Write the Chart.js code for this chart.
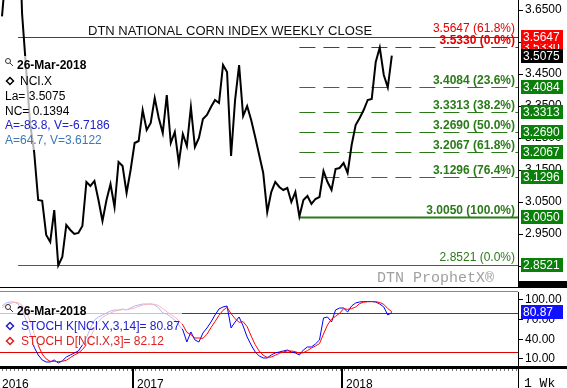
<!DOCTYPE html>
<html>
<head>
<meta charset="utf-8">
<script src="https://cdn.jsdelivr.net/npm/chart.js@4.4.1/dist/chart.umd.min.js"></script>
<style>
  html, body { margin: 0; padding: 0; background: #fff; }
  #wrap { position: relative; width: 567px; height: 388px; overflow: hidden; }
  canvas { position: absolute; left: 0; }
  #main { top: 0; }
  #stoch { top: 288px; }
</style>
</head>
<body>
<div id="wrap">
  <canvas id="main" width="567" height="288"></canvas>
  <canvas id="stoch" width="567" height="100"></canvas>
</div>
<script>
// weekly closes, week 0 = 16-May-2016 ... week 97 = 26-Mar-2018
const closes = [3.63, 3.78, 3.84, 3.93, 4.005, 3.6375, 3.4658, 3.2940, 3.2066, 3.0567,
  3.0540, 2.9474, 2.9255, 3.0254, 2.8521, 2.8786, 2.9786, 2.9630, 2.9505, 2.9536,
  2.9755, 3.1129, 3.1004, 3.1160, 3.0567, 2.9911, 3.0567, 3.1066, 3.0348, 3.1753,
  3.1628, 3.0785, 3.1503, 3.2347, 3.2409, 3.3377, 3.2753, 3.2971, 3.3752, 3.3128,
  3.2659, 3.3846, 3.2347, 3.2690, 3.1722, 3.2628, 3.2253, 3.3471, 3.2222, 3.2503,
  3.3096, 3.3221, 3.3471, 3.3690, 3.3596, 3.4783, 3.4564, 3.1941, 3.3690, 3.4783,
  3.3190, 3.3502, 3.3065, 3.2534, 3.1972, 3.1410, 3.0192, 3.0816, 3.1129, 3.0973,
  3.0879, 3.0941, 3.0504, 3.0816, 3.0050, 3.0567, 3.0692, 3.0442, 3.0598, 3.0660,
  3.1472, 3.1129, 3.0879, 3.1535, 3.1566, 3.1722, 3.1410, 3.2284, 3.2909, 3.3128,
  3.3377, 3.3690, 3.3721, 3.4877, 3.5330, 3.4471, 3.4084, 3.5075];

const stochK = [90.8, 95.4, 96.9, 96.9, 93.8, 84.7, 69.5, 49.6, 28.0, 16.1,
  8.5, 5.4, 5.4, 8.5, 3.9, 7.0, 13.0, 16.1, 19.1, 22.2,
  31.3, 42.0, 57.0, 69.5, 74.0, 77.1, 80.1, 83.2, 84.7, 84.7,
  86.2, 84.7, 87.7, 90.8, 92.3, 93.8, 93.8, 93.8, 92.3, 87.7,
  80.1, 78.6, 74.0, 69.5, 61.8, 54.2, 35.9, 51.2, 39.0, 35.9,
  49.6, 57.3, 66.4, 77.1, 86.2, 89.3, 90.8, 57.3, 66.4, 74.0,
  60.3, 43.5, 31.3, 20.7, 14.6, 11.5, 11.5, 16.1, 19.1, 20.7,
  22.2, 23.7, 20.7, 19.1, 16.1, 23.7, 28.3, 28.3, 32.9, 39.0,
  72.5, 74.0, 66.4, 84.7, 87.7, 87.7, 81.6, 90.8, 95.4, 96.9,
  97.5, 97.5, 97.5, 96.9, 93.8, 89.3, 77.1, 80.87];

const stochD = [88.0, 92.5, 94.4, 96.4, 95.9, 91.8, 82.7, 67.9, 49.0, 31.2,
  17.5, 10.0, 6.4, 6.4, 5.9, 6.5, 8.0, 12.0, 16.1, 19.1,
  24.2, 31.8, 43.4, 56.2, 66.8, 73.5, 77.1, 80.1, 82.7, 84.2,
  85.2, 85.2, 86.2, 87.7, 90.3, 92.3, 93.3, 93.8, 93.3, 91.3,
  86.7, 82.1, 77.6, 74.0, 68.4, 61.8, 50.6, 47.1, 42.0, 42.0,
  41.5, 47.6, 57.8, 66.9, 76.6, 84.2, 88.8, 79.1, 71.5, 65.9,
  66.9, 59.3, 45.0, 31.8, 22.2, 15.6, 12.5, 13.0, 15.6, 18.6,
  20.7, 22.2, 22.2, 21.2, 18.6, 19.6, 22.7, 26.8, 29.8, 33.4,
  48.1, 61.8, 71.0, 75.0, 79.6, 86.7, 85.7, 86.7, 89.3, 94.4,
  96.6, 97.3, 97.5, 97.3, 96.1, 93.3, 86.7, 82.12];

const priceTicks = [2.85, 2.90, 2.95, 3.00, 3.05, 3.10, 3.15, 3.20, 3.25, 3.30, 3.35, 3.40, 3.45, 3.50, 3.55, 3.60, 3.65];
const stochTicks = [10, 40, 70, 100];
const stochBands = [20, 80];

// year boundaries (week index) and labels
const yearBreaks = [32.5, 84.5];
const yearLabels = ['2016', '2017', '2018'];

// fibonacci sets: first from 2016 high down to 2016 low, second from 2017 low up to 2018 high
const fibLongStart = 4;
const fibLongLevels = [3.5647, 2.8521];
const fibLongNames = ['3.5647 (61.8%)', '2.8521 (0.0%)'];
const fibShortStart = 74;
const fibShortLevels = [3.5330, 3.4084, 3.3313, 3.2690, 3.2067, 3.1296, 3.0050];
const fibShortNames = ['3.5330 (0.0%)', '3.4084 (23.6%)', '3.3313 (38.2%)', '3.2690 (50.0%)', '3.2067 (61.8%)', '3.1296 (76.4%)', '3.0050 (100.0%)'];

const weeks = closes.map((v, i) => i);
const FONT = '"Liberation Sans", Arial, sans-serif';
const RED = '#e00000';
const GREEN = '#2a7a1a';
const BOXGREEN = '#0a800a';

function magnifier(ctx, x, y) {
  ctx.save();
  ctx.strokeStyle = '#333';
  ctx.lineWidth = 1;
  ctx.beginPath();
  ctx.arc(x + 3, y - 2, 2.5, 0, Math.PI * 2);
  ctx.moveTo(x + 5, y);
  ctx.lineTo(x + 8, y + 3);
  ctx.stroke();
  ctx.restore();
}

function diamond(ctx, x, y, color) {
  ctx.save();
  ctx.strokeStyle = color;
  ctx.lineWidth = 1.5;
  ctx.beginPath();
  ctx.moveTo(x, y - 3.5);
  ctx.lineTo(x + 3.5, y);
  ctx.lineTo(x, y + 3.5);
  ctx.lineTo(x - 3.5, y);
  ctx.closePath();
  ctx.stroke();
  ctx.restore();
}

function valueBox(ctx, y, text, bg) {
  ctx.fillStyle = bg;
  ctx.fillRect(521, Math.round(y) - 7, 42, 14);
  ctx.fillStyle = '#fff';
  ctx.font = '12px ' + FONT;
  ctx.textAlign = 'left';
  ctx.textBaseline = 'middle';
  ctx.fillText(text, 523, Math.round(y) + 0.5);
}

const mainDecor = {
  id: 'mainDecor',
  beforeDatasetsDraw(chart) {
    const { ctx, chartArea, scales } = chart;
    const xs = scales.x, ys = scales.y;
    ctx.save();
    // long fib lines (solid)
    const x1 = xs.getPixelForValue(fibLongStart);
    ctx.lineWidth = 1;
    ctx.strokeStyle = RED;
    let y = Math.round(ys.getPixelForValue(fibLongLevels[0])) + 0.5;
    ctx.beginPath(); ctx.moveTo(x1, y); ctx.lineTo(chartArea.right, y); ctx.stroke();
    ctx.strokeStyle = GREEN;
    y = Math.round(ys.getPixelForValue(fibLongLevels[1])) + 0.5;
    ctx.beginPath(); ctx.moveTo(x1, y); ctx.lineTo(chartArea.right, y); ctx.stroke();
    // short fib lines
    const x2 = xs.getPixelForValue(fibShortStart);
    fibShortLevels.forEach((v, k) => {
      const yy = Math.round(ys.getPixelForValue(v)) + 0.5;
      ctx.beginPath();
      if (k === fibShortLevels.length - 1) {
        ctx.setLineDash([]);
        ctx.lineWidth = 2;
        ctx.strokeStyle = GREEN;
      } else {
        ctx.setLineDash([16, 8]);
        ctx.lineWidth = 1;
        ctx.strokeStyle = k === 0 ? RED : GREEN;
      }
      ctx.moveTo(x2, yy); ctx.lineTo(chartArea.right, yy); ctx.stroke();
    });
    ctx.restore();
  },
  afterDatasetsDraw(chart) {
    const { ctx, scales } = chart;
    const ys = scales.y;
    ctx.save();
    ctx.textAlign = 'right';
    ctx.textBaseline = 'alphabetic';
    // fib labels
    ctx.font = '12px ' + FONT;
    ctx.fillStyle = RED;
    ctx.fillText(fibLongNames[0], 515, ys.getPixelForValue(fibLongLevels[0]) - 5);
    ctx.fillStyle = GREEN;
    ctx.fillText(fibLongNames[1], 515, ys.getPixelForValue(fibLongLevels[1]) - 4);
    ctx.font = 'bold 12px ' + FONT;
    fibShortLevels.forEach((v, k) => {
      ctx.fillStyle = k === 0 ? RED : GREEN;
      ctx.fillText(fibShortNames[k], 515, ys.getPixelForValue(v) - 3);
    });

    // title
    ctx.textAlign = 'left';
    ctx.fillStyle = '#111';
    ctx.font = '13px ' + FONT;
    ctx.fillText('DTN NATIONAL CORN INDEX WEEKLY CLOSE', 88, 35);

    // legend box
    ctx.fillStyle = 'rgba(255,255,255,0.7)';
    ctx.fillRect(0, 56, 113, 94);
    magnifier(ctx, 5, 63);
    ctx.fillStyle = '#000';
    ctx.font = 'bold 12px ' + FONT;
    ctx.fillText('26-Mar-2018', 17, 69);
    diamond(ctx, 10, 81, '#000');
    ctx.font = '12px ' + FONT;
    ctx.fillText('NCI.X', 20, 85);
    ctx.fillText('La= 3.5075', 5, 100);
    ctx.fillText('NC= 0.1394', 5, 115);
    ctx.fillStyle = '#2020c8';
    ctx.fillText('A=-83.8, V=-6.7186', 5, 129);
    ctx.fillStyle = '#3a78b8';
    ctx.fillText('A=64.7, V=3.6122', 5, 144);

    // watermark
    ctx.fillStyle = '#a0a0a0';
    ctx.font = '15px "Liberation Mono", "Courier New", monospace';
    ctx.fillText('DTN ProphetX\u00ae', 377, 282);

    // value boxes on the axis
    valueBox(ctx, ys.getPixelForValue(3.5330), '3.5330', '#ff0000');
    valueBox(ctx, ys.getPixelForValue(3.5647), '3.5647', '#ff0000');
    valueBox(ctx, ys.getPixelForValue(closes[closes.length - 1]), closes[closes.length - 1].toFixed(4), '#000');
    fibShortLevels.slice(1).concat([fibLongLevels[1]]).forEach(v => {
      valueBox(ctx, ys.getPixelForValue(v), v.toFixed(4), BOXGREEN);
    });
    // panel separator block on the right
    ctx.fillStyle = '#000';
    ctx.fillRect(518, 281, 49, 7);
    ctx.fillRect(0, 287, 567, 1);
    ctx.restore();
  }
};

new Chart(document.getElementById('main'), {
  type: 'line',
  data: {
    datasets: [{
      data: closes.map((v, i) => ({ x: weeks[i], y: v })),
      borderColor: '#000',
      borderWidth: 2,
      pointRadius: 0,
      tension: 0
    }]
  },
  options: {
    responsive: false,
    animation: false,
    layout: { padding: 0 },
    plugins: { legend: { display: false }, tooltip: { enabled: false } },
    scales: {
      x: { type: 'linear', min: -0.5, max: 128.4, display: false },
      y: {
        position: 'right',
        min: 2.7818,
        max: 3.6813,
        afterFit(s) { s.width = 49; s.paddingTop = 0; s.paddingBottom = 0; },
        afterBuildTicks(s) { s.ticks = priceTicks.map(v => ({ value: v })); },
        grid: { drawOnChartArea: false, tickLength: 5, color: '#000' },
        border: { color: '#000' },
        ticks: { font: { size: 12, family: FONT }, color: '#000', padding: 2, callback: v => v.toFixed(4) }
      }
    }
  },
  plugins: [mainDecor]
});

const stochDecor = {
  id: 'stochDecor',
  beforeDatasetsDraw(chart) {
    const { ctx, chartArea, scales } = chart;
    ctx.save();
    ctx.strokeStyle = RED;
    ctx.lineWidth = 1;
    stochBands.forEach(v => {
      const y = Math.round(scales.y.getPixelForValue(v)) + 0.5;
      ctx.beginPath(); ctx.moveTo(chartArea.left, y); ctx.lineTo(chartArea.right, y); ctx.stroke();
    });
    ctx.restore();
  },
  afterDatasetsDraw(chart) {
    const { ctx, chartArea, scales } = chart;
    const xs = scales.x;
    ctx.save();
    // legend box
    ctx.fillStyle = 'rgba(255,255,255,0.7)';
    ctx.fillRect(0, 4, 182, 53);
    magnifier(ctx, 5, 21);
    ctx.fillStyle = '#000';
    ctx.font = 'bold 12px ' + FONT;
    ctx.textAlign = 'left';
    ctx.fillText('26-Mar-2018', 17, 27);
    diamond(ctx, 10, 38, '#2020d0');
    ctx.font = '12px ' + FONT;
    ctx.fillStyle = '#2020d0';
    ctx.fillText('STOCH K[NCI.X,3,14]= 80.87', 21, 42);
    diamond(ctx, 10, 53, '#e02020');
    ctx.fillStyle = '#e02020';
    ctx.fillText('STOCH D[NCI.X,3]= 82.12', 21, 57);

    // value box
    valueBox(ctx, scales.y.getPixelForValue(stochK[stochK.length - 1]), stochK[stochK.length - 1].toFixed(2), '#1010ff');

    // top separator
    ctx.fillStyle = '#888';
    ctx.fillRect(0, 3, 518, 1);
    // bottom axis
    ctx.fillStyle = '#000';
    ctx.fillRect(0, chartArea.bottom, 567, 3);
    ctx.fillStyle = '#777';
    for (let w = 0; w <= 128; w++) {
      const x = Math.round(xs.getPixelForValue(w));
      ctx.fillRect(x, chartArea.bottom + 3, 1, 2);
    }
    ctx.fillStyle = '#000';
    yearBreaks.forEach(b => {
      const x = Math.round(xs.getPixelForValue(b));
      ctx.fillRect(x - 1, chartArea.bottom + 3, 2, 30);
    });
    ctx.font = '12px ' + FONT;
    ctx.fillText(yearLabels[0], 2, 97);
    yearBreaks.forEach((b, k) => {
      ctx.fillText(yearLabels[k + 1], Math.round(xs.getPixelForValue(b)) + 4, 97);
    });
    ctx.fillRect(518, chartArea.bottom, 1, 30);
    ctx.font = '13px "Liberation Mono", "Courier New", monospace';
    ctx.fillText('1 Wk', 524, 96);
    ctx.restore();
  }
};

new Chart(document.getElementById('stoch'), {
  type: 'line',
  data: {
    datasets: [
      { data: stochD.map((v, i) => ({ x: weeks[i], y: v })), borderColor: '#ff0000', borderWidth: 1, pointRadius: 0, tension: 0 },
      { data: stochK.map((v, i) => ({ x: weeks[i], y: v })), borderColor: '#0000ff', borderWidth: 1, pointRadius: 0, tension: 0 }
    ]
  },
  options: {
    responsive: false,
    animation: false,
    layout: { padding: { top: 4, bottom: 22 } },
    plugins: { legend: { display: false }, tooltip: { enabled: false } },
    scales: {
      x: { type: 'linear', min: -0.5, max: 128.4, display: false },
      y: {
        position: 'right',
        min: -0.7,
        max: 112.1,
        afterFit(s) { s.width = 49; s.paddingTop = 0; s.paddingBottom = 0; },
        afterBuildTicks(s) { s.ticks = stochTicks.map(v => ({ value: v })); },
        grid: { drawOnChartArea: false, tickLength: 5, color: '#000' },
        border: { color: '#000' },
        ticks: { font: { size: 12, family: FONT }, color: '#000', padding: 2, callback: v => v.toFixed(2) }
      }
    }
  },
  plugins: [stochDecor]
});
</script>
</body>
</html>
